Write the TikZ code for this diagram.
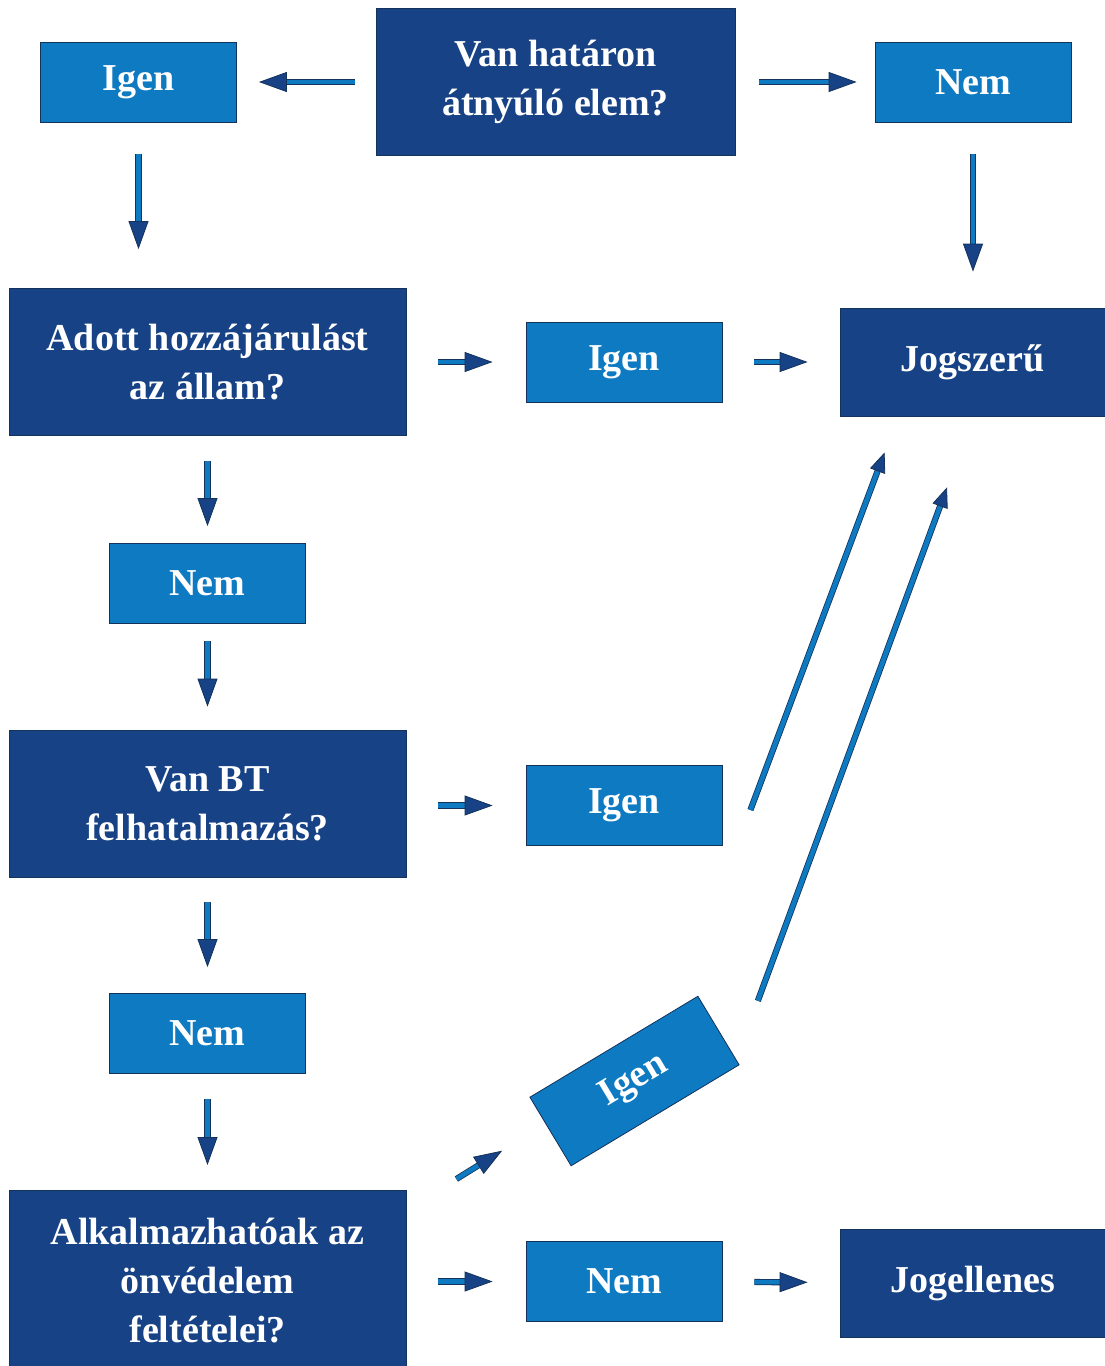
\documentclass[tikz,border=0pt]{standalone}
\usepackage{fontspec}
\setmainfont{Liberation Serif}
\usetikzlibrary{arrows.meta,calc}
\definecolor{sotetkek}{RGB}{23,66,133}
\definecolor{vilagoskek}{RGB}{14,122,194}
\definecolor{keret}{RGB}{20,50,90}
\tikzset{
  kerdes/.style={draw=keret, line width=0.8pt, fill=sotetkek, text=white, align=center,
    minimum width=397pt, minimum height=147pt, inner sep=0pt,
    font=\fontsize{38}{49}\selectfont\bfseries},
  valasz/.style={draw=keret, line width=0.8pt, fill=vilagoskek, text=white, align=center,
    minimum width=196pt, minimum height=80pt, inner sep=0pt,
    font=\fontsize{38}{49}\selectfont\bfseries},
  eredmeny/.style={kerdes, minimum width=265pt, minimum height=108pt},
  nyil/.style={draw=keret, line width=0.8pt, double=vilagoskek, double distance=4.6pt,
    -{Triangle[length=28pt,width=20pt,fill=sotetkek]}},
  hosszu/.style={nyil, -{Triangle[length=20pt,width=16pt,fill=sotetkek]}}
}
\begin{document}
\begin{tikzpicture}[x=1pt,y=-1pt]
  \useasboundingbox (0,0) rectangle (1105,1366);
  %felso sor
  \node[kerdes, minimum width=359pt] (hatar) at (555.5,82) {Van határon\\átnyúló elem?};
  \node[valasz] (igen1) at (138.5,82) {Igen};
  \node[valasz] (nem1) at (973,82) {Nem};
  \draw[nyil, shorten <=21pt, shorten >=22pt] (hatar) -- (igen1);
  \draw[nyil, shorten <=24pt, shorten >=18pt] (hatar) -- (nem1);
  %hozzajarulas
  \node[kerdes] (adott) at (207.5,362) {Adott hozzájárulást\\az állam?};
  \node[valasz] (igen2) at (624,362) {Igen};
  \node[eredmeny] (jogszeru) at (972.5,362) {Jogszerű};
  \draw[nyil, shorten <=32pt, shorten >=39pt] (igen1.south) -- (igen1.south |- adott.north);
  \draw[nyil, shorten <=32pt, shorten >=36pt] (nem1.south) -- (nem1.south |- jogszeru.north);
  \draw[nyil, shorten <=32pt, shorten >=33pt] (adott) -- (igen2);
  \draw[nyil, shorten <=32pt, shorten >=32pt] (igen2) -- (jogszeru);
  %BT
  \node[valasz] (nem2) at (207.5,583.5) {Nem};
  \node[kerdes] (bt) at (207.5,803.5) {Van BT\\felhatalmazás?};
  \node[valasz] (igen3) at (624,805.5) {Igen};
  \draw[nyil, shorten <=25pt, shorten >=17pt] (adott) -- (nem2);
  \draw[nyil, shorten <=17pt, shorten >=23pt] (nem2) -- (bt);
  \draw[nyil, shorten <=32pt, shorten >=33pt] (bt.east |- igen3) -- (igen3);
  \draw[hosszu] ($(igen3.east)+(28,4.5)$) -- ($(jogszeru.south west)+(45,36)$);
  %onvedelem
  \node[valasz] (nem3) at (207.5,1033.5) {Nem};
  \node[kerdes, minimum height=180pt, anchor=north] (onved) at (207.5,1190) {Alkalmazhatóak az\\önvédelem\\feltételei?};
  \node[valasz, rotate=31] (igen4) at (634.5,1081) {Igen};
  \node[valasz] (nem4) at (624,1281.5) {Nem};
  \node[eredmeny] (jogellenes) at (972.5,1283) {Jogellenes};
  \draw[nyil, shorten <=25pt, shorten >=26pt] (bt) -- (nem3);
  \draw[nyil, shorten <=25pt, shorten >=25pt] (nem3.south) -- (onved.north);
  \draw[nyil] ($(onved.north east)+(50,-11)$) -- ($(igen4.west)+(-48,19)$);
  \draw[hosszu] ($(igen4.east)+(39,-29.5)$) -- ($(jogszeru.south)+(-25.5,71)$);
  \draw[nyil, shorten <=32pt, shorten >=33pt] (onved.east |- nem4) -- (nem4);
  \draw[nyil, shorten <=32pt, shorten >=32pt] (nem4) -- (jogellenes);
\end{tikzpicture}
\end{document}
